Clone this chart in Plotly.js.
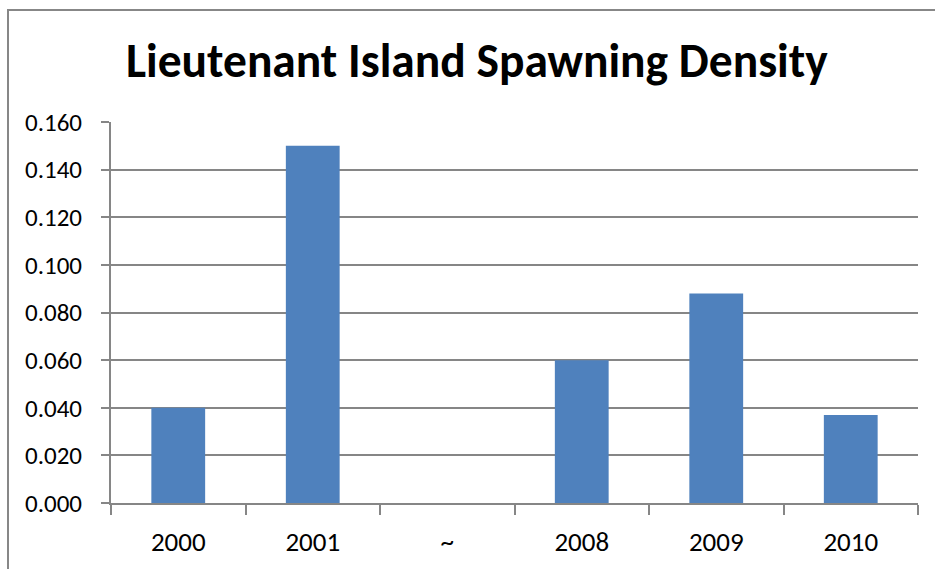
<!DOCTYPE html>
<html>
<head>
<meta charset="utf-8">
<script src="https://cdn.plot.ly/plotly-3.0.1.min.js"></script>
<style>
  html, body { margin: 0; padding: 0; background: #ffffff; }
  #wrap { position: relative; width: 935px; height: 569px; overflow: hidden; }
  #chart { position: absolute; left: 0; top: 0; width: 935px; height: 569px; }
  #frame { position: absolute; left: 7px; top: 9px; width: 940px; height: 580px;
           border-left: 2px solid #878787; border-top: 2px solid #878787; pointer-events: none; }
</style>
</head>
<body>
<div id="wrap">
  <div id="chart"></div>
  <div id="frame"></div>
</div>
<script>
const categories = ["2000", "2001", "~", "2008", "2009", "2010"];
const densityValues = [0.040, 0.150, null, 0.060, 0.088, 0.037];
const yTickValues = [0, 0.02, 0.04, 0.06, 0.08, 0.10, 0.12, 0.14, 0.16];
const chartTitle = "Lieutenant Island Spawning Density";

const fontFamily = "Carlito, Lato, 'Open Sans', sans-serif";
const gridColor = "#868686";

const trace = {
  type: "bar",
  x: categories,
  y: densityValues,
  marker: { color: "#4F81BD", line: { width: 0 } },
  hoverinfo: "x+y"
};

const layout = {
  width: 935,
  height: 569,
  paper_bgcolor: "#ffffff",
  plot_bgcolor: "#ffffff",
  margin: { l: 111, r: 17, t: 122, b: 66 },
  showlegend: false,
  bargap: 0.6,
  title: {
    text: "<b>" + chartTitle + "</b>",
    font: { family: fontFamily, size: 47.5, color: "#000000" },
    x: 0.51, xref: "container", xanchor: "center",
    y: 1 - 60 / 569, yref: "container", yanchor: "middle"
  },
  xaxis: {
    type: "category",
    tickson: "boundaries",
    ticks: "outside",
    ticklen: 10,
    tickwidth: 2,
    tickcolor: gridColor,
    showline: true,
    linecolor: gridColor,
    linewidth: 2,
    showgrid: false,
    zeroline: false,
    tickfont: { family: fontFamily, size: 27, color: "#000000" },
    ticklabelstandoff: 14
  },
  yaxis: {
    range: [0, 0.16],
    tickvals: yTickValues,
    tickformat: ".3f",
    ticks: "outside",
    ticklen: 8,
    tickwidth: 2,
    tickcolor: gridColor,
    showline: true,
    linecolor: gridColor,
    linewidth: 2,
    showgrid: true,
    gridcolor: gridColor,
    gridwidth: 2,
    zeroline: false,
    tickfont: { family: fontFamily, size: 25, color: "#000000" },
    ticklabelstandoff: 14
  }
};

Plotly.newPlot("chart", [trace], layout, { staticPlot: true, displayModeBar: false });
</script>
</body>
</html>
